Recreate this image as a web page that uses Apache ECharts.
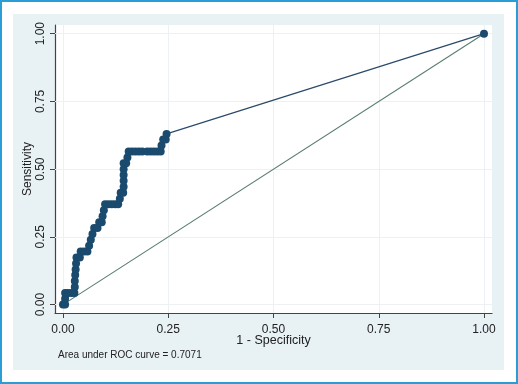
<!DOCTYPE html>
<html lang="en">
<head>
    <meta charset="UTF-8">
    <title>ROC curve</title>
    <script src="https://cdn.jsdelivr.net/npm/echarts@6/dist/echarts.min.js"></script>
    <style>
        body { margin: 0; background: #fff; }
        #frame {
            position: relative; width: 518px; height: 384px;
            box-sizing: border-box; border: 2px solid #2a9dd6; background: #fff;
        }
        #panel {
            position: absolute; left: 11px; top: 12px; width: 491px; height: 356px;
            background: #e8f1f4;
        }
        #chart-container { position: absolute; left: -2px; top: -2px; width: 518px; height: 384px; }
    </style>
</head>
<body>
<div id="frame">
    <div id="panel"></div>
    <div id="chart-container"></div>
</div>
<script>
    // 1 - specificity (false positive rate) of each ROC point
    var fpr = [0.000, 0.005, 0.005, 0.005, 0.012, 0.020, 0.027, 0.028, 0.028, 0.029,
               0.030, 0.031, 0.032, 0.040, 0.042, 0.050, 0.058, 0.062, 0.066, 0.070,
               0.074, 0.082, 0.086, 0.092, 0.094, 0.097, 0.100, 0.108, 0.116, 0.124,
               0.131, 0.135, 0.137, 0.143, 0.144, 0.144, 0.144, 0.144, 0.144, 0.150,
               0.153, 0.156, 0.164, 0.172, 0.180, 0.188, 0.200, 0.208, 0.216, 0.224,
               0.232, 0.234, 0.238, 0.244, 0.246, 1.000];
    // sensitivity of each ROC point
    var sens = [0.000, 0.000, 0.022, 0.043, 0.043, 0.043, 0.043, 0.065, 0.087, 0.109,
                0.130, 0.152, 0.174, 0.174, 0.196, 0.196, 0.196, 0.217, 0.239, 0.261,
                0.283, 0.283, 0.304, 0.304, 0.326, 0.348, 0.370, 0.370, 0.370, 0.370,
                0.370, 0.391, 0.413, 0.413, 0.435, 0.457, 0.478, 0.500, 0.522, 0.522,
                0.543, 0.565, 0.565, 0.565, 0.565, 0.565, 0.565, 0.565, 0.565, 0.565,
                0.565, 0.587, 0.609, 0.609, 0.630, 1.000];
    var refLine = [[0, 0], [1, 1]];
    var tickValues = [0, 0.25, 0.5, 0.75, 1];
    var aucText = 'Area under ROC curve = 0.7071';

    var font = '"Liberation Sans", Arial, sans-serif';
    var chart = echarts.init(document.getElementById('chart-container'));

    var rocData = fpr.map(function (x, i) { return [x, sens[i]]; });
    var gridLines = [];
    tickValues.forEach(function (v) {
        gridLines.push({ xAxis: v });
        gridLines.push({ yAxis: v });
    });

    var option = {
        animation: false,
        textStyle: { fontFamily: font },
        grid: {
            left: 55, top: 25, right: 26, bottom: 71,
            show: true, backgroundColor: '#fff', borderWidth: 0
        },
        xAxis: {
            type: 'value', min: -0.019, max: 1.019,
            name: '1 - Specificity', nameLocation: 'middle', nameGap: 21, nameMoveOverlap: false,
            nameTextStyle: { fontSize: 12.5, color: '#222', fontFamily: font },
            axisLine: { onZero: false, lineStyle: { color: '#444', width: 1.2 } },
            axisTick: { show: true, length: 5, customValues: tickValues, lineStyle: { color: '#444' } },
            axisLabel: {
                customValues: tickValues, margin: 11, fontSize: 12, color: '#222', fontFamily: font,
                formatter: function (v) { return v.toFixed(2); }
            },
            splitLine: { show: false }
        },
        yAxis: {
            type: 'value', min: -0.031, max: 1.032,
            name: 'Sensitivity', nameLocation: 'middle', nameGap: 21, nameMoveOverlap: false,
            nameTextStyle: { fontSize: 12, color: '#222', fontFamily: font },
            axisLine: { show: true, onZero: false, lineStyle: { color: '#444', width: 1.2 } },
            axisTick: { show: true, length: 5, customValues: tickValues, lineStyle: { color: '#444' } },
            axisLabel: {
                customValues: tickValues, margin: 8, rotate: 90, fontSize: 12, color: '#222', fontFamily: font,
                formatter: function (v) { return v.toFixed(2); }
            },
            splitLine: { show: false }
        },
        graphic: [{
            type: 'text', left: 58, top: 350,
            style: { text: aucText, fontSize: 10, fill: '#222', fontFamily: font }
        }],
        series: [{
            type: 'line',
            data: refLine,
            showSymbol: false,
            lineStyle: { color: '#5a7d6f', width: 1.1 },
            markLine: {
                silent: true, symbol: 'none', z: 1,
                label: { show: false },
                lineStyle: { color: '#edf1f3', width: 1, type: 'solid' },
                data: gridLines
            }
        }, {
            type: 'line',
            data: rocData,
            symbol: 'circle',
            symbolSize: 8,
            showAllSymbol: true,
            itemStyle: { color: '#1a4a6e' },
            lineStyle: { color: '#2b4a6a', width: 1.2 }
        }]
    };

    chart.setOption(option);
</script>
</body>
</html>
